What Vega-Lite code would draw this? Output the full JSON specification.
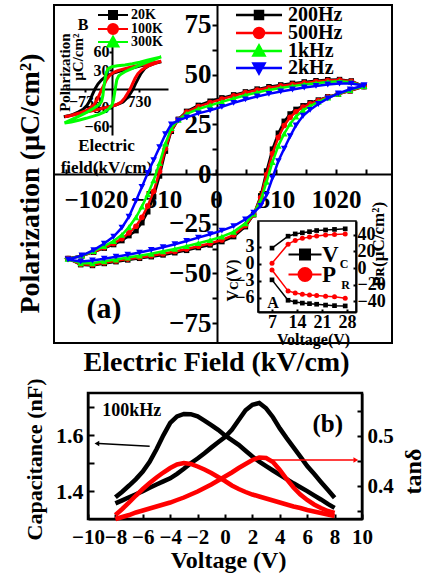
{
"$schema": "https://vega.github.io/schema/vega-lite/v6.json",
"width": 426, "height": 577,
"autosize": {"type": "none"},
"padding": 0,
"background": "white",
"config": {
  "view": {"stroke": null},
  "axis": {"grid": false, "domainColor": "#000000", "tickColor": "#000000", "labelColor": "#000000", "titleColor": "#000000", "labelFont": "Liberation Serif", "titleFont": "Liberation Serif", "labelFontWeight": "bold", "titleFontWeight": "bold", "domainWidth": 2, "tickWidth": 2, "labelOverlap": false, "labelFlush": false, "labelBound": false},
  "legend": {"labelFont": "Liberation Serif", "labelFontWeight": "bold", "labelColor": "#000000", "symbolOpacity": 1, "padding": 0, "orient": "none", "symbolSize": 100},
  "text": {"font": "Liberation Serif", "fontWeight": "bold", "color": "#000000"}
},
"datasets": {
  "pe": [
    {"o":0,"E":1258,"200Hz":44,"500Hz":44.1,"1kHz":44.2,"2kHz":44.5},
    {"o":1,"E":1150,"200Hz":46.8,"500Hz":46.6,"1kHz":46.2,"2kHz":45.5},
    {"o":2,"E":1050,"200Hz":47.5,"500Hz":47.2,"1kHz":46.6,"2kHz":45.5},
    {"o":3,"E":950,"200Hz":47.4,"500Hz":47.0,"1kHz":46.3,"2kHz":45},
    {"o":4,"E":850,"200Hz":46.9,"500Hz":46.5,"1kHz":45.7,"2kHz":44.3},
    {"o":5,"E":750,"200Hz":46.3,"500Hz":45.8,"1kHz":45.0,"2kHz":43.5},
    {"o":6,"E":650,"200Hz":45.6,"500Hz":45.1,"1kHz":44.2,"2kHz":42.5},
    {"o":7,"E":550,"200Hz":44.8,"500Hz":44.3,"1kHz":43.3,"2kHz":41.5},
    {"o":8,"E":450,"200Hz":43.9,"500Hz":43.4,"1kHz":42.3,"2kHz":40.3},
    {"o":9,"E":350,"200Hz":42.7,"500Hz":42.2,"1kHz":41.0,"2kHz":39},
    {"o":10,"E":250,"200Hz":41.3,"500Hz":40.9,"1kHz":39.6,"2kHz":37.5},
    {"o":11,"E":150,"200Hz":39.8,"500Hz":39.3,"1kHz":38.0,"2kHz":35.8},
    {"o":12,"E":50,"200Hz":38.3,"500Hz":37.7,"1kHz":36.3,"2kHz":33.8},
    {"o":13,"E":-50,"200Hz":36.6,"500Hz":35.9,"1kHz":34.5,"2kHz":32},
    {"o":14,"E":-150,"200Hz":34.5,"500Hz":33.9,"1kHz":32.7,"2kHz":30.5},
    {"o":15,"E":-250,"200Hz":31.5,"500Hz":31.1,"1kHz":30.2,"2kHz":28.5},
    {"o":16,"E":-320,"200Hz":27.5,"500Hz":27.4,"1kHz":27.3,"2kHz":27},
    {"o":17,"E":-380,"200Hz":21.5,"500Hz":22.0,"1kHz":23.1,"2kHz":25},
    {"o":18,"E":-430,"200Hz":11.5,"500Hz":12.8,"1kHz":15.3,"2kHz":20},
    {"o":19,"E":-480,"200Hz":-1,"500Hz":1.2,"1kHz":5.5,"2kHz":13.5},
    {"o":20,"E":-530,"200Hz":-11.5,"500Hz":-8.7,"1kHz":-3.2,"2kHz":7},
    {"o":21,"E":-580,"200Hz":-19,"500Hz":-16.1,"1kHz":-10.2,"2kHz":0.5},
    {"o":22,"E":-630,"200Hz":-24.5,"500Hz":-21.8,"1kHz":-16.4,"2kHz":-6.5},
    {"o":23,"E":-680,"200Hz":-28.5,"500Hz":-26.3,"1kHz":-21.8,"2kHz":-13.5},
    {"o":24,"E":-740,"200Hz":-31,"500Hz":-29.6,"1kHz":-26.7,"2kHz":-21.5},
    {"o":25,"E":-800,"200Hz":-33.5,"500Hz":-32.5,"1kHz":-30.6,"2kHz":-27},
    {"o":26,"E":-870,"200Hz":-35.5,"500Hz":-34.9,"1kHz":-33.7,"2kHz":-31.5},
    {"o":27,"E":-950,"200Hz":-37.3,"500Hz":-37.0,"1kHz":-36.3,"2kHz":-35},
    {"o":28,"E":-1040,"200Hz":-39.3,"500Hz":-39.1,"1kHz":-38.8,"2kHz":-38.3},
    {"o":29,"E":-1140,"200Hz":-41.1,"500Hz":-41.1,"1kHz":-41.1,"2kHz":-41},
    {"o":30,"E":-1258,"200Hz":-42.5,"500Hz":-42.6,"1kHz":-42.7,"2kHz":-43},
    {"o":31,"E":-1150,"200Hz":-45.6,"500Hz":-45.4,"1kHz":-44.9,"2kHz":-44},
    {"o":32,"E":-1050,"200Hz":-46,"500Hz":-45.6,"1kHz":-44.9,"2kHz":-43.5},
    {"o":33,"E":-950,"200Hz":-45,"500Hz":-44.6,"1kHz":-43.9,"2kHz":-42.6},
    {"o":34,"E":-850,"200Hz":-44.1,"500Hz":-43.7,"1kHz":-43.0,"2kHz":-41.6},
    {"o":35,"E":-750,"200Hz":-43.2,"500Hz":-42.8,"1kHz":-42.0,"2kHz":-40.6},
    {"o":36,"E":-650,"200Hz":-42.4,"500Hz":-42.0,"1kHz":-41.1,"2kHz":-39.5},
    {"o":37,"E":-550,"200Hz":-41.6,"500Hz":-41.1,"1kHz":-40.1,"2kHz":-38.2},
    {"o":38,"E":-450,"200Hz":-40.7,"500Hz":-40.1,"1kHz":-38.9,"2kHz":-36.8},
    {"o":39,"E":-350,"200Hz":-39.6,"500Hz":-39.0,"1kHz":-37.7,"2kHz":-35.3},
    {"o":40,"E":-250,"200Hz":-38.4,"500Hz":-37.7,"1kHz":-36.3,"2kHz":-33.7},
    {"o":41,"E":-150,"200Hz":-37,"500Hz":-36.3,"1kHz":-34.8,"2kHz":-32},
    {"o":42,"E":-50,"200Hz":-35.7,"500Hz":-34.9,"1kHz":-33.3,"2kHz":-30.3},
    {"o":43,"E":50,"200Hz":-34,"500Hz":-33.2,"1kHz":-31.5,"2kHz":-28.5},
    {"o":44,"E":150,"200Hz":-31.5,"500Hz":-30.7,"1kHz":-29.1,"2kHz":-26.2},
    {"o":45,"E":250,"200Hz":-26.5,"500Hz":-25.9,"1kHz":-24.8,"2kHz":-22.8},
    {"o":46,"E":320,"200Hz":-20.5,"500Hz":-20.4,"1kHz":-20.1,"2kHz":-19.5},
    {"o":47,"E":380,"200Hz":-11,"500Hz":-11.8,"1kHz":-13.3,"2kHz":-16},
    {"o":48,"E":430,"200Hz":1.5,"500Hz":-0.3,"1kHz":-3.9,"2kHz":-10.5},
    {"o":49,"E":480,"200Hz":12.5,"500Hz":10.3,"1kHz":6.0,"2kHz":-2},
    {"o":50,"E":530,"200Hz":20.5,"500Hz":18.4,"1kHz":14.2,"2kHz":6.5},
    {"o":51,"E":580,"200Hz":26.5,"500Hz":24.4,"1kHz":20.3,"2kHz":12.8},
    {"o":52,"E":630,"200Hz":30.2,"500Hz":28.5,"1kHz":25.2,"2kHz":19},
    {"o":53,"E":680,"200Hz":32.5,"500Hz":31.3,"1kHz":28.9,"2kHz":24.5},
    {"o":54,"E":740,"200Hz":34.3,"500Hz":33.6,"1kHz":32.1,"2kHz":29.3},
    {"o":55,"E":800,"200Hz":35.8,"500Hz":35.3,"1kHz":34.2,"2kHz":32.3},
    {"o":56,"E":870,"200Hz":37.2,"500Hz":36.9,"1kHz":36.3,"2kHz":35.2},
    {"o":57,"E":950,"200Hz":38.8,"500Hz":38.7,"1kHz":38.4,"2kHz":38},
    {"o":58,"E":1040,"200Hz":40.2,"500Hz":40.2,"1kHz":40.3,"2kHz":40.5},
    {"o":59,"E":1140,"200Hz":41.8,"500Hz":41.9,"1kHz":42.2,"2kHz":42.6},
    {"o":60,"E":1258,"200Hz":44,"500Hz":44.1,"1kHz":44.2,"2kHz":44.5}
  ],
  "ib": [
    {"s":"20K","o":0,"E":1330,"P":44},{"s":"20K","o":1,"E":1150,"P":42},{"s":"20K","o":2,"E":950,"P":40},{"s":"20K","o":3,"E":750,"P":37},{"s":"20K","o":4,"E":550,"P":34},{"s":"20K","o":5,"E":350,"P":31},{"s":"20K","o":6,"E":150,"P":28},{"s":"20K","o":7,"E":0,"P":25},{"s":"20K","o":8,"E":-150,"P":21},{"s":"20K","o":9,"E":-280,"P":15},{"s":"20K","o":10,"E":-380,"P":8},{"s":"20K","o":11,"E":-460,"P":0},{"s":"20K","o":12,"E":-530,"P":-9},{"s":"20K","o":13,"E":-600,"P":-19},{"s":"20K","o":14,"E":-680,"P":-27},{"s":"20K","o":15,"E":-780,"P":-33},{"s":"20K","o":16,"E":-900,"P":-37},{"s":"20K","o":17,"E":-1050,"P":-41},{"s":"20K","o":18,"E":-1200,"P":-44},{"s":"20K","o":19,"E":-1300,"P":-45},
    {"s":"20K","o":20,"E":-1150,"P":-43},{"s":"20K","o":21,"E":-950,"P":-40},{"s":"20K","o":22,"E":-750,"P":-37},{"s":"20K","o":23,"E":-550,"P":-35},{"s":"20K","o":24,"E":-350,"P":-32},{"s":"20K","o":25,"E":-150,"P":-30},{"s":"20K","o":26,"E":0,"P":-28},{"s":"20K","o":27,"E":150,"P":-25},{"s":"20K","o":28,"E":300,"P":-21},{"s":"20K","o":29,"E":420,"P":-14},{"s":"20K","o":30,"E":510,"P":-6},{"s":"20K","o":31,"E":570,"P":0},{"s":"20K","o":32,"E":630,"P":8},{"s":"20K","o":33,"E":700,"P":16},{"s":"20K","o":34,"E":780,"P":25},{"s":"20K","o":35,"E":880,"P":33},{"s":"20K","o":36,"E":1000,"P":38},{"s":"20K","o":37,"E":1150,"P":41.5},{"s":"20K","o":38,"E":1330,"P":44},
    {"s":"100K","o":0,"E":1330,"P":45},{"s":"100K","o":1,"E":1150,"P":43},{"s":"100K","o":2,"E":950,"P":41},{"s":"100K","o":3,"E":750,"P":38.5},{"s":"100K","o":4,"E":550,"P":36},{"s":"100K","o":5,"E":350,"P":33},{"s":"100K","o":6,"E":150,"P":29.5},{"s":"100K","o":7,"E":50,"P":27},{"s":"100K","o":8,"E":-50,"P":23},{"s":"100K","o":9,"E":-150,"P":15},{"s":"100K","o":10,"E":-220,"P":6},{"s":"100K","o":11,"E":-270,"P":0},{"s":"100K","o":12,"E":-330,"P":-8},{"s":"100K","o":13,"E":-400,"P":-17},{"s":"100K","o":14,"E":-480,"P":-25},{"s":"100K","o":15,"E":-580,"P":-31},{"s":"100K","o":16,"E":-700,"P":-35},{"s":"100K","o":17,"E":-850,"P":-38.5},{"s":"100K","o":18,"E":-1000,"P":-41},{"s":"100K","o":19,"E":-1150,"P":-43.5},{"s":"100K","o":20,"E":-1280,"P":-45},
    {"s":"100K","o":21,"E":-1100,"P":-43},{"s":"100K","o":22,"E":-900,"P":-40},{"s":"100K","o":23,"E":-700,"P":-37.5},{"s":"100K","o":24,"E":-500,"P":-35},{"s":"100K","o":25,"E":-300,"P":-32},{"s":"100K","o":26,"E":-100,"P":-29},{"s":"100K","o":27,"E":100,"P":-26},{"s":"100K","o":28,"E":250,"P":-21},{"s":"100K","o":29,"E":350,"P":-14},{"s":"100K","o":30,"E":430,"P":-6},{"s":"100K","o":31,"E":490,"P":0},{"s":"100K","o":32,"E":550,"P":8},{"s":"100K","o":33,"E":620,"P":17},{"s":"100K","o":34,"E":700,"P":25},{"s":"100K","o":35,"E":800,"P":31},{"s":"100K","o":36,"E":950,"P":36.5},{"s":"100K","o":37,"E":1150,"P":41},{"s":"100K","o":38,"E":1330,"P":45},
    {"s":"300K","o":0,"E":1330,"P":52},{"s":"300K","o":1,"E":1150,"P":49.5},{"s":"300K","o":2,"E":950,"P":46.5},{"s":"300K","o":3,"E":750,"P":43.5},{"s":"300K","o":4,"E":550,"P":41},{"s":"300K","o":5,"E":350,"P":39},{"s":"300K","o":6,"E":150,"P":37.5},{"s":"300K","o":7,"E":0,"P":36},{"s":"300K","o":8,"E":-100,"P":33},{"s":"300K","o":9,"E":-150,"P":27},{"s":"300K","o":10,"E":-190,"P":15},{"s":"300K","o":11,"E":-220,"P":3},{"s":"300K","o":12,"E":-245,"P":-10},{"s":"300K","o":13,"E":-280,"P":-20},{"s":"300K","o":14,"E":-350,"P":-25},{"s":"300K","o":15,"E":-450,"P":-29.5},{"s":"300K","o":16,"E":-600,"P":-35},{"s":"300K","o":17,"E":-750,"P":-40},{"s":"300K","o":18,"E":-900,"P":-44.5},{"s":"300K","o":19,"E":-1050,"P":-48.5},{"s":"300K","o":20,"E":-1180,"P":-52},{"s":"300K","o":21,"E":-1280,"P":-55},
    {"s":"300K","o":22,"E":-1100,"P":-53.5},{"s":"300K","o":23,"E":-900,"P":-50.5},{"s":"300K","o":24,"E":-700,"P":-47.5},{"s":"300K","o":25,"E":-500,"P":-44},{"s":"300K","o":26,"E":-350,"P":-41},{"s":"300K","o":27,"E":-200,"P":-37},{"s":"300K","o":28,"E":-80,"P":-32},{"s":"300K","o":29,"E":0,"P":-26},{"s":"300K","o":30,"E":40,"P":-18},{"s":"300K","o":31,"E":70,"P":-7},{"s":"300K","o":32,"E":100,"P":5},{"s":"300K","o":33,"E":130,"P":15},{"s":"300K","o":34,"E":180,"P":21},{"s":"300K","o":35,"E":250,"P":24.5},{"s":"300K","o":36,"E":350,"P":28},{"s":"300K","o":37,"E":550,"P":33.5},{"s":"300K","o":38,"E":750,"P":38.5},{"s":"300K","o":39,"E":950,"P":43.5},{"s":"300K","o":40,"E":1150,"P":48},{"s":"300K","o":41,"E":1330,"P":52}
  ],
  "ia": [
    {"U":7,"vu":2.8,"vl":-2.8,"pu":5.6,"pl":-2.4},
    {"U":11.5,"vu":4.9,"vl":-6.4,"pu":28.5,"pl":-27.5},
    {"U":13.5,"vu":5.3,"vl":-6.7,"pu":33,"pl":-30},
    {"U":15.5,"vu":5.5,"vl":-6.9,"pu":35.5,"pl":-31.5},
    {"U":17.5,"vu":5.7,"vl":-7.0,"pu":37,"pl":-32.3},
    {"U":19.5,"vu":5.9,"vl":-7.1,"pu":38.3,"pl":-33},
    {"U":22,"vu":6.0,"vl":-7.25,"pu":39.5,"pl":-33.7},
    {"U":24.5,"vu":6.1,"vl":-7.35,"pu":40.2,"pl":-34.5},
    {"U":27.5,"vu":6.2,"vl":-7.4,"pu":40.7,"pl":-36.3}
  ],
  "cv": [
    {"V":-8,"c1":1.378,"c2":1.356,"t1":0.342,"t2":0.334},
    {"V":-7.5,"c1":1.398,"c2":1.367,"t1":0.354,"t2":0.338},
    {"V":-7,"c1":1.42,"c2":1.378,"t1":0.367,"t2":0.342},
    {"V":-6.5,"c1":1.443,"c2":1.389,"t1":0.381,"t2":0.347},
    {"V":-6,"c1":1.47,"c2":1.40,"t1":0.394,"t2":0.351},
    {"V":-5.5,"c1":1.505,"c2":1.412,"t1":0.406,"t2":0.355},
    {"V":-5,"c1":1.55,"c2":1.424,"t1":0.417,"t2":0.359},
    {"V":-4.5,"c1":1.60,"c2":1.435,"t1":0.427,"t2":0.363},
    {"V":-4,"c1":1.645,"c2":1.446,"t1":0.436,"t2":0.367},
    {"V":-3.5,"c1":1.668,"c2":1.462,"t1":0.443,"t2":0.372},
    {"V":-3,"c1":1.677,"c2":1.48,"t1":0.446,"t2":0.377},
    {"V":-2.5,"c1":1.676,"c2":1.50,"t1":0.444,"t2":0.383},
    {"V":-2,"c1":1.668,"c2":1.517,"t1":0.439,"t2":0.389},
    {"V":-1.5,"c1":1.653,"c2":1.536,"t1":0.433,"t2":0.396},
    {"V":-1,"c1":1.637,"c2":1.556,"t1":0.426,"t2":0.403},
    {"V":-0.5,"c1":1.62,"c2":1.575,"t1":0.418,"t2":0.411},
    {"V":0,"c1":1.6,"c2":1.594,"t1":0.41,"t2":0.419},
    {"V":0.5,"c1":1.583,"c2":1.62,"t1":0.401,"t2":0.427},
    {"V":1,"c1":1.566,"c2":1.655,"t1":0.394,"t2":0.436},
    {"V":1.5,"c1":1.545,"c2":1.69,"t1":0.388,"t2":0.444},
    {"V":2,"c1":1.524,"c2":1.71,"t1":0.383,"t2":0.452},
    {"V":2.5,"c1":1.506,"c2":1.716,"t1":0.379,"t2":0.457},
    {"V":3,"c1":1.49,"c2":1.697,"t1":0.375,"t2":0.456},
    {"V":3.5,"c1":1.474,"c2":1.665,"t1":0.371,"t2":0.448},
    {"V":4,"c1":1.458,"c2":1.625,"t1":0.367,"t2":0.432},
    {"V":4.5,"c1":1.443,"c2":1.59,"t1":0.363,"t2":0.414},
    {"V":5,"c1":1.428,"c2":1.557,"t1":0.359,"t2":0.397},
    {"V":5.5,"c1":1.414,"c2":1.524,"t1":0.356,"t2":0.383},
    {"V":6,"c1":1.40,"c2":1.49,"t1":0.352,"t2":0.372},
    {"V":6.5,"c1":1.385,"c2":1.462,"t1":0.349,"t2":0.363},
    {"V":7,"c1":1.37,"c2":1.433,"t1":0.346,"t2":0.356},
    {"V":7.5,"c1":1.354,"c2":1.405,"t1":0.343,"t2":0.35},
    {"V":8,"c1":1.34,"c2":1.376,"t1":0.34,"t2":0.346}
  ]
},
"layer": [
  {
    "layer": [
      {
        "data": {"name": "pe"},
        "transform": [{"fold": ["200Hz"], "as": ["f", "P"]}],
        "mark": {"type": "line", "color": "#000000", "strokeWidth": 2.5, "point": {"shape": "square", "size": 30, "filled": true, "color": "#000000"}},
        "encoding": {
          "x": {"field": "E", "type": "quantitative", "scale": {"domain": [-1377, 1496], "range": [54, 392], "nice": false, "zero": false},
                "axis": {"orient": "bottom", "offset": -403, "values": [-1275,-1020,-765,-510,-255,0,255,510,765,1020,1275], "format": "d", "labelExpr": "datum.value % 510 == 0 ? datum.label : ''", "tickSize": -5, "labelPadding": 18, "labelFontSize": 25, "title": "Electric Field (kV/cm)", "titleFontSize": 28, "titleX": 216, "titleY": 188, "titleBaseline": "middle", "titleAlign": "center", "titleAngle": 0}},
          "y": {"field": "P", "type": "quantitative", "scale": {"domain": [-85, 85], "range": [343, 5], "nice": false, "zero": false},
                "axis": {"orient": "left", "offset": -217, "values": [-75,-62.5,-50,-37.5,-25,-12.5,0,12.5,25,37.5,50,62.5,75], "labelExpr": "datum.value % 25 == 0 ? format(datum.value, 'd') : ''", "tickSize": 5, "labelPadding": 1, "labelFontSize": 27, "title": "Polarization (µC/cm²)", "titleFontSize": 28, "titleX": -187, "titleY": 183, "titleAngle": 270, "titleBaseline": "middle", "titleAlign": "center"}},
          "order": {"field": "o"}
        }
      },
      {
        "data": {"name": "pe"},
        "transform": [{"fold": ["500Hz"], "as": ["f", "P"]}],
        "mark": {"type": "line", "color": "#ff0000", "strokeWidth": 2.5, "point": {"shape": "circle", "size": 32, "filled": true, "color": "#ff0000"}},
        "encoding": {"x": {"field": "E", "type": "quantitative"}, "y": {"field": "P", "type": "quantitative"}, "order": {"field": "o"}}
      },
      {
        "data": {"name": "pe"},
        "transform": [{"fold": ["1kHz"], "as": ["f", "P"]}],
        "mark": {"type": "line", "color": "#00ff00", "strokeWidth": 2.5, "point": {"shape": "triangle-up", "size": 45, "filled": true, "color": "#00ff00"}},
        "encoding": {"x": {"field": "E", "type": "quantitative"}, "y": {"field": "P", "type": "quantitative"}, "order": {"field": "o"}}
      },
      {
        "data": {"name": "pe"},
        "transform": [{"fold": ["2kHz"], "as": ["f", "P"]}],
        "mark": {"type": "line", "color": "#0000ff", "strokeWidth": 2.5, "point": {"shape": "triangle-down", "size": 45, "filled": true, "color": "#0000ff"}},
        "encoding": {"x": {"field": "E", "type": "quantitative"}, "y": {"field": "P", "type": "quantitative"}, "order": {"field": "o"}}
      },
      {
        "data": {"values": [{}]},
        "mark": {"type": "rect", "fillOpacity": 0, "stroke": "#000000", "strokeWidth": 2},
        "encoding": {"x": {"datum": -1377, "type": "quantitative"}, "x2": {"datum": 1496}, "y": {"datum": -85, "type": "quantitative"}, "y2": {"datum": 85}}
      },
      {
        "data": {"values": [{}]},
        "mark": {"type": "text", "text": "(a)", "fontSize": 30},
        "encoding": {"x": {"datum": -952, "type": "quantitative"}, "y": {"datum": -67.7, "type": "quantitative"}}
      },
      {
        "data": {"values": [{"f": "200Hz"}]},
        "mark": {"type": "point", "filled": true, "opacity": 0},
        "encoding": {
          "fill": {"field": "f", "type": "nominal", "scale": {"domain": ["200Hz"], "range": ["#000000"]}, "legend": {"legendX": 249, "legendY": 5, "title": null, "labelFontSize": 20, "symbolStrokeWidth": 2.5, "labelOffset": 19}},
          "stroke": {"field": "f", "type": "nominal", "scale": {"domain": ["200Hz"], "range": ["#000000"]}, "legend": {"legendX": 249, "legendY": 5, "title": null, "labelFontSize": 20, "symbolStrokeWidth": 2.5, "labelOffset": 19}},
          "shape": {"field": "f", "type": "nominal", "scale": {"domain": ["200Hz"], "range": ["M-4.6,0H4.6M-0.8,-0.8H0.8V0.8H-0.8Z"]}, "legend": {"legendX": 249, "legendY": 5, "title": null, "labelFontSize": 20, "symbolStrokeWidth": 2.5, "labelOffset": 19}}
        }
      },
      {
        "data": {"values": [{"f": "500Hz"}]},
        "mark": {"type": "point", "filled": true, "opacity": 0},
        "encoding": {
          "fill": {"field": "f", "type": "nominal", "scale": {"domain": ["500Hz"], "range": ["#ff0000"]}, "legend": {"legendX": 249, "legendY": 23, "title": null, "labelFontSize": 20, "symbolStrokeWidth": 2.5, "labelOffset": 19}},
          "stroke": {"field": "f", "type": "nominal", "scale": {"domain": ["500Hz"], "range": ["#ff0000"]}, "legend": {"legendX": 249, "legendY": 23, "title": null, "labelFontSize": 20, "symbolStrokeWidth": 2.5, "labelOffset": 19}},
          "shape": {"field": "f", "type": "nominal", "scale": {"domain": ["500Hz"], "range": ["M-4.6,0H4.6M-1,0A1,1,0,1,1,1,0A1,1,0,1,1,-1,0Z"]}, "legend": {"legendX": 249, "legendY": 23, "title": null, "labelFontSize": 20, "symbolStrokeWidth": 2.5, "labelOffset": 19}}
        }
      },
      {
        "data": {"values": [{"f": "1kHz"}]},
        "mark": {"type": "point", "filled": true, "opacity": 0},
        "encoding": {
          "fill": {"field": "f", "type": "nominal", "scale": {"domain": ["1kHz"], "range": ["#00ff00"]}, "legend": {"legendX": 249, "legendY": 41, "title": null, "labelFontSize": 20, "symbolStrokeWidth": 2.5, "labelOffset": 19}},
          "stroke": {"field": "f", "type": "nominal", "scale": {"domain": ["1kHz"], "range": ["#00ff00"]}, "legend": {"legendX": 249, "legendY": 41, "title": null, "labelFontSize": 20, "symbolStrokeWidth": 2.5, "labelOffset": 19}},
          "shape": {"field": "f", "type": "nominal", "scale": {"domain": ["1kHz"], "range": ["M-4.6,0H4.6M-1.1,0.9L1.1,0.9L0,-1.1Z"]}, "legend": {"legendX": 249, "legendY": 41, "title": null, "labelFontSize": 20, "symbolStrokeWidth": 2.5, "labelOffset": 19}}
        }
      },
      {
        "data": {"values": [{"f": "2kHz"}]},
        "mark": {"type": "point", "filled": true, "opacity": 0},
        "encoding": {
          "fill": {"field": "f", "type": "nominal", "scale": {"domain": ["2kHz"], "range": ["#0000ff"]}, "legend": {"legendX": 249, "legendY": 58, "title": null, "labelFontSize": 20, "symbolStrokeWidth": 2.5, "labelOffset": 19}},
          "stroke": {"field": "f", "type": "nominal", "scale": {"domain": ["2kHz"], "range": ["#0000ff"]}, "legend": {"legendX": 249, "legendY": 58, "title": null, "labelFontSize": 20, "symbolStrokeWidth": 2.5, "labelOffset": 19}},
          "shape": {"field": "f", "type": "nominal", "scale": {"domain": ["2kHz"], "range": ["M-4.6,0H4.6M-1.1,-0.9L1.1,-0.9L0,1.1Z"]}, "legend": {"legendX": 249, "legendY": 58, "title": null, "labelFontSize": 20, "symbolStrokeWidth": 2.5, "labelOffset": 19}}
        }
      }
    ],
    "resolve": {"scale": {"fill": "independent", "stroke": "independent", "shape": "independent"}, "legend": {"fill": "independent", "stroke": "independent", "shape": "independent"}}
  },
  {
    "layer": [
      {
        "data": {"name": "ib"},
        "transform": [{"filter": "datum.s == '20K'"}],
        "mark": {"type": "line", "color": "#000000", "strokeWidth": 3},
        "encoding": {
          "x": {"field": "E", "type": "quantitative", "scale": {"domain": [-1404, 1512], "range": [60, 168], "nice": false, "zero": false},
                "axis": {"orient": "bottom", "offset": -488, "values": [-730, 730], "format": "d", "tickSize": 3, "labelPadding": 1, "labelFontSize": 16, "title": ["Electric", "field(kV/cm)"], "titleFontSize": 17, "titleLineHeight": 22, "titleX": 106, "titleY": 56, "titleBaseline": "middle", "titleAlign": "center", "titleAngle": 0}},
          "y": {"field": "P", "type": "quantitative", "scale": {"domain": [-74.5, 74.5], "range": [135, 43], "nice": false, "zero": false},
                "axis": {"orient": "left", "offset": -112, "values": [-60, -30, 30, 60], "format": "d", "tickSize": 3, "labelPadding": 0, "labelFontSize": 16, "title": ["Polarization", "µC/cm²"], "titleFontSize": 15, "titleLineHeight": 13, "titleX": -48, "titleY": 33, "titleAngle": 270, "titleAlign": "right", "titleBaseline": "middle"}},
          "order": {"field": "o"}
        }
      },
      {
        "data": {"name": "ib"},
        "transform": [{"filter": "datum.s == '100K'"}],
        "mark": {"type": "line", "color": "#ff0000", "strokeWidth": 3},
        "encoding": {"x": {"field": "E", "type": "quantitative"}, "y": {"field": "P", "type": "quantitative"}, "order": {"field": "o"}}
      },
      {
        "data": {"name": "ib"},
        "transform": [{"filter": "datum.s == '300K'"}],
        "mark": {"type": "line", "color": "#00ff00", "strokeWidth": 3},
        "encoding": {"x": {"field": "E", "type": "quantitative"}, "y": {"field": "P", "type": "quantitative"}, "order": {"field": "o"}}
      },
      {
        "data": {"values": [{}]},
        "mark": {"type": "text", "text": "B", "fontSize": 16},
        "encoding": {"x": {"datum": -783, "type": "quantitative"}, "y": {"datum": 103.7, "type": "quantitative"}}
      },
      {
        "data": {"values": [{"t": "20K"}]},
        "mark": {"type": "point", "filled": true, "opacity": 0},
        "encoding": {
          "fill": {"field": "t", "type": "nominal", "scale": {"domain": ["20K"], "range": ["#000000"]}, "legend": {"legendX": 106, "legendY": 8, "title": null, "labelFontSize": 14, "symbolStrokeWidth": 2, "labelOffset": 11}},
          "stroke": {"field": "t", "type": "nominal", "scale": {"domain": ["20K"], "range": ["#000000"]}, "legend": {"legendX": 106, "legendY": 8, "title": null, "labelFontSize": 14, "symbolStrokeWidth": 2, "labelOffset": 11}},
          "shape": {"field": "t", "type": "nominal", "scale": {"domain": ["20K"], "range": ["M-3,0H3M-0.8,-0.8H0.8V0.8H-0.8Z"]}, "legend": {"legendX": 106, "legendY": 8, "title": null, "labelFontSize": 14, "symbolStrokeWidth": 2, "labelOffset": 11}}
        }
      },
      {
        "data": {"values": [{"t": "100K"}]},
        "mark": {"type": "point", "filled": true, "opacity": 0},
        "encoding": {
          "fill": {"field": "t", "type": "nominal", "scale": {"domain": ["100K"], "range": ["#ff0000"]}, "legend": {"legendX": 106, "legendY": 22, "title": null, "labelFontSize": 14, "symbolStrokeWidth": 2, "labelOffset": 11}},
          "stroke": {"field": "t", "type": "nominal", "scale": {"domain": ["100K"], "range": ["#ff0000"]}, "legend": {"legendX": 106, "legendY": 22, "title": null, "labelFontSize": 14, "symbolStrokeWidth": 2, "labelOffset": 11}},
          "shape": {"field": "t", "type": "nominal", "scale": {"domain": ["100K"], "range": ["M-3,0H3M-1,0A1,1,0,1,1,1,0A1,1,0,1,1,-1,0Z"]}, "legend": {"legendX": 106, "legendY": 22, "title": null, "labelFontSize": 14, "symbolStrokeWidth": 2, "labelOffset": 11}}
        }
      },
      {
        "data": {"values": [{"t": "300K"}]},
        "mark": {"type": "point", "filled": true, "opacity": 0},
        "encoding": {
          "fill": {"field": "t", "type": "nominal", "scale": {"domain": ["300K"], "range": ["#00ff00"]}, "legend": {"legendX": 106, "legendY": 35, "title": null, "labelFontSize": 14, "symbolStrokeWidth": 2, "labelOffset": 11}},
          "stroke": {"field": "t", "type": "nominal", "scale": {"domain": ["300K"], "range": ["#00ff00"]}, "legend": {"legendX": 106, "legendY": 35, "title": null, "labelFontSize": 14, "symbolStrokeWidth": 2, "labelOffset": 11}},
          "shape": {"field": "t", "type": "nominal", "scale": {"domain": ["300K"], "range": ["M-3,0H3M-1.1,0.9L1.1,0.9L0,-1.1Z"]}, "legend": {"legendX": 106, "legendY": 35, "title": null, "labelFontSize": 14, "symbolStrokeWidth": 2, "labelOffset": 11}}
        }
      }
    ],
    "resolve": {"scale": {"fill": "independent", "stroke": "independent", "shape": "independent"}, "legend": {"fill": "independent", "stroke": "independent", "shape": "independent"}}
  },
  {
    "layer": [
      {
        "layer": [
          {
            "data": {"name": "ia"},
            "transform": [{"fold": ["vu", "vl"], "as": ["br", "val"]}],
            "mark": {"type": "line", "color": "#000000", "strokeWidth": 1.5, "point": {"shape": "square", "size": 22, "filled": true, "color": "#000000"}},
            "encoding": {
              "x": {"field": "U", "type": "quantitative", "scale": {"domain": [3.08, 30.52], "range": [258, 356], "nice": false, "zero": false},
                    "axis": {"orient": "bottom", "offset": -265, "values": [7, 14, 21, 28], "tickSize": -3, "labelPadding": 4, "labelFontSize": 18, "title": "Voltage(V)", "titleFontSize": 16, "titleX": 313, "titleY": 27, "titleBaseline": "middle", "titleAlign": "center", "titleAngle": 0}},
              "y": {"field": "val", "type": "quantitative", "scale": {"domain": [-8.47, 7.58], "range": [312, 221], "nice": false, "zero": false},
                    "axis": {"orient": "left", "offset": -258, "values": [-6, -3, 0, 3], "tickSize": -3, "labelPadding": 7, "labelFontSize": 18, "title": "Vᴄ(V)", "titleFontSize": 16, "titleX": -26, "titleY": 280, "titleAngle": 270, "titleBaseline": "middle", "titleAlign": "center"}},
              "detail": {"field": "br"}
            }
          },
          {
            "data": {"values": [{}]},
            "mark": {"type": "rect", "fillOpacity": 0, "stroke": "#000000", "strokeWidth": 1.5},
            "encoding": {"x": {"datum": 3.08, "type": "quantitative"}, "x2": {"datum": 30.52}, "y": {"datum": -8.47, "type": "quantitative"}, "y2": {"datum": 7.58}}
          },
          {
            "data": {"values": [{}]},
            "mark": {"type": "text", "text": "A", "fontSize": 16},
            "encoding": {"x": {"datum": 7.3, "type": "quantitative"}, "y": {"datum": -6.9, "type": "quantitative"}}
          },
          {
            "data": {"values": [{}]},
            "mark": {"type": "text", "text": "C", "fontSize": 12},
            "encoding": {"x": {"datum": 27.2, "type": "quantitative"}, "y": {"datum": 0, "type": "quantitative"}}
          },
          {
            "data": {"values": [{}]},
            "mark": {"type": "text", "text": "R", "fontSize": 12},
            "encoding": {"x": {"datum": 27.6, "type": "quantitative"}, "y": {"datum": -3.7, "type": "quantitative"}}
          }
        ]
      },
      {
        "layer": [
          {
            "data": {"name": "ia"},
            "transform": [{"fold": ["pu", "pl"], "as": ["br", "val"]}],
            "mark": {"type": "line", "color": "#ff0000", "strokeWidth": 1.5, "point": {"shape": "circle", "size": 25, "filled": true, "color": "#ff0000"}},
            "encoding": {
              "x": {"field": "U", "type": "quantitative"},
              "y": {"field": "val", "type": "quantitative", "scale": {"domain": [-52.7, 56.3], "range": [312, 221], "nice": false, "zero": false},
                    "axis": {"orient": "right", "offset": -70, "values": [-40, -20, 0, 20, 40], "tickSize": -3, "labelPadding": 4, "labelFontSize": 18, "title": "Pʀ(µC/cm²)", "titleFontSize": 17, "titleX": 22, "titleY": 244, "titleAngle": 270, "titleBaseline": "middle", "titleAlign": "center"}},
              "detail": {"field": "br"}
            }
          }
        ]
      },
      {
        "data": {"values": [{"k": "V"}]},
        "mark": {"type": "point", "filled": true, "opacity": 0},
        "encoding": {
          "fill": {"field": "k", "type": "nominal", "scale": {"domain": ["V"], "range": ["#000000"]}, "legend": {"legendX": 293.5, "legendY": 243, "title": null, "labelFontSize": 23, "symbolStrokeWidth": 2, "labelOffset": 5.5}},
          "stroke": {"field": "k", "type": "nominal", "scale": {"domain": ["V"], "range": ["#000000"]}, "legend": {"legendX": 293.5, "legendY": 243, "title": null, "labelFontSize": 23, "symbolStrokeWidth": 2, "labelOffset": 5.5}},
          "shape": {"field": "k", "type": "nominal", "scale": {"domain": ["V"], "range": ["M-3.3,0H3.3M-1,-1H1V1H-1Z"]}, "legend": {"legendX": 293.5, "legendY": 243, "title": null, "labelFontSize": 23, "symbolStrokeWidth": 2, "labelOffset": 5.5}}
        }
      },
      {
        "data": {"values": [{"k": "P"}]},
        "mark": {"type": "point", "filled": true, "opacity": 0},
        "encoding": {
          "fill": {"field": "k", "type": "nominal", "scale": {"domain": ["P"], "range": ["#ff0000"]}, "legend": {"legendX": 293.5, "legendY": 263, "title": null, "labelFontSize": 23, "symbolStrokeWidth": 2, "labelOffset": 5.5}},
          "stroke": {"field": "k", "type": "nominal", "scale": {"domain": ["P"], "range": ["#ff0000"]}, "legend": {"legendX": 293.5, "legendY": 263, "title": null, "labelFontSize": 23, "symbolStrokeWidth": 2, "labelOffset": 5.5}},
          "shape": {"field": "k", "type": "nominal", "scale": {"domain": ["P"], "range": ["M-3.3,0H3.3M-1.3,0A1.3,1.3,0,1,1,1.3,0A1.3,1.3,0,1,1,-1.3,0Z"]}, "legend": {"legendX": 293.5, "legendY": 263, "title": null, "labelFontSize": 23, "symbolStrokeWidth": 2, "labelOffset": 5.5}}
        }
      }
    ],
    "resolve": {"scale": {"y": "independent", "fill": "independent", "stroke": "independent", "shape": "independent"}, "axis": {"y": "independent"}, "legend": {"fill": "independent", "stroke": "independent", "shape": "independent"}}
  },
  {
    "layer": [
      {
        "layer": [
          {
            "data": {"name": "cv"},
            "transform": [{"fold": ["c1", "c2"], "as": ["br", "C"]}],
            "mark": {"type": "line", "color": "#000000", "strokeWidth": 4.5},
            "encoding": {
              "x": {"field": "V", "type": "quantitative", "scale": {"domain": [-10, 10], "range": [88, 362], "nice": false, "zero": false},
                    "axis": {"orient": "bottom", "offset": -58, "values": [-10,-9,-8,-7,-6,-5,-4,-3,-2,-1,0,1,2,3,4,5,6,7,8,9,10], "format": "d", "labelExpr": "datum.value % 2 == 0 ? datum.label : ''", "tickSize": -5, "labelPadding": 12, "labelFontSize": 21, "title": "Voltage (V)", "titleFontSize": 24, "titleX": 228, "titleY": 41, "titleBaseline": "middle", "titleAlign": "center", "titleAngle": 0}},
              "y": {"field": "C", "type": "quantitative", "scale": {"domain": [1.3, 1.752], "range": [519, 393], "nice": false, "zero": false},
                    "axis": {"orient": "left", "offset": -88, "values": [1.4, 1.5, 1.6, 1.7], "format": ".1f", "labelExpr": "datum.value == 1.4 || datum.value == 1.6 ? datum.label : ''", "tickSize": -6, "labelPadding": 11, "labelFontSize": 22, "title": "Capacitance (nF)", "titleFontSize": 22, "titleX": -54, "titleY": 459, "titleAngle": 270, "titleBaseline": "middle", "titleAlign": "center"}},
              "detail": {"field": "br"}
            }
          },
          {
            "data": {"values": [{}]},
            "mark": {"type": "rect", "fillOpacity": 0, "stroke": "#000000", "strokeWidth": 2.5},
            "encoding": {"x": {"datum": -10, "type": "quantitative"}, "x2": {"datum": 10}, "y": {"datum": 1.3, "type": "quantitative"}, "y2": {"datum": 1.752}}
          },
          {
            "data": {"values": [{}]},
            "mark": {"type": "text", "text": "100kHz", "fontSize": 18},
            "encoding": {"x": {"datum": -6.8, "type": "quantitative"}, "y": {"datum": 1.687, "type": "quantitative"}}
          },
          {
            "data": {"values": [{}]},
            "mark": {"type": "text", "text": "(b)", "fontSize": 25},
            "encoding": {"x": {"datum": 7.5, "type": "quantitative"}, "y": {"datum": 1.64, "type": "quantitative"}}
          },
          {
            "data": {"values": [{}]},
            "mark": {"type": "rule", "color": "#000000", "strokeWidth": 1.5},
            "encoding": {"x": {"datum": -5.5, "type": "quantitative"}, "x2": {"datum": -9.2}, "y": {"datum": 1.561, "type": "quantitative"}, "y2": {"datum": 1.571}}
          },
          {
            "data": {"values": [{}]},
            "mark": {"type": "point", "shape": "triangle-left", "size": 30, "filled": true, "color": "#000000", "opacity": 1},
            "encoding": {"x": {"datum": -9.35, "type": "quantitative"}, "y": {"datum": 1.571, "type": "quantitative"}}
          }
        ]
      },
      {
        "layer": [
          {
            "data": {"name": "cv"},
            "transform": [{"fold": ["t1", "t2"], "as": ["br", "T"]}],
            "mark": {"type": "line", "color": "#ff0000", "strokeWidth": 4.5},
            "encoding": {
              "x": {"field": "V", "type": "quantitative"},
              "y": {"field": "T", "type": "quantitative", "scale": {"domain": [0.334, 0.586], "range": [519, 393], "nice": false, "zero": false},
                    "axis": {"orient": "right", "offset": -64, "values": [0.35, 0.4, 0.45, 0.5, 0.55], "format": ".1f", "labelExpr": "datum.value == 0.4 || datum.value == 0.5 ? datum.label : ''", "tickSize": -5, "labelPadding": 10, "labelFontSize": 21, "title": "tanδ", "titleFontSize": 24, "titleX": 51, "titleY": 471, "titleAngle": 270, "titleBaseline": "middle", "titleAlign": "center"}},
              "detail": {"field": "br"}
            }
          },
          {
            "data": {"values": [{}]},
            "mark": {"type": "rule", "color": "#ff0000", "strokeWidth": 1.5},
            "encoding": {"x": {"datum": 3.3, "type": "quantitative"}, "x2": {"datum": 9.4}, "y": {"datum": 0.452, "type": "quantitative"}}
          },
          {
            "data": {"values": [{}]},
            "mark": {"type": "point", "shape": "triangle-right", "size": 30, "filled": true, "color": "#ff0000", "opacity": 1},
            "encoding": {"x": {"datum": 9.55, "type": "quantitative"}, "y": {"datum": 0.452, "type": "quantitative"}}
          }
        ]
      }
    ],
    "resolve": {"scale": {"y": "independent"}, "axis": {"y": "independent"}}
  }
],
"resolve": {
  "scale": {"x": "independent", "y": "independent", "fill": "independent", "stroke": "independent", "shape": "independent"},
  "axis": {"x": "independent", "y": "independent"},
  "legend": {"fill": "independent", "stroke": "independent", "shape": "independent"}
}
}
